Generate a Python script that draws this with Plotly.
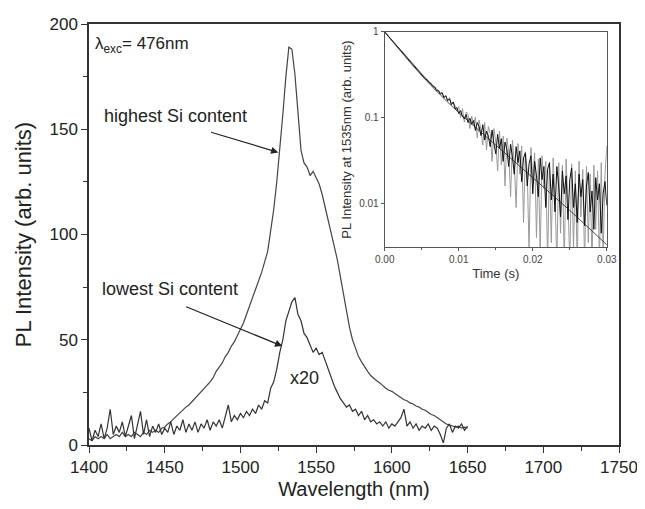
import numpy as np
import plotly.graph_objects as go

# PL spectra, 2 nm steps from 1400 to 1650 nm
wavelength = np.arange(1400, 1651, 2)
high_si = [3, 2, 4, 3, 4, 3, 5, 3, 4, 5, 4, 6, 4, 5, 4, 6, 5, 4, 6, 5,
           7, 6, 7, 6, 8, 8.5, 10, 11, 12.5, 14, 15, 16.5, 18, 19, 20.5, 22, 24, 25, 27, 28.5,
           30, 32, 35, 37, 39, 42, 44, 47, 49, 52, 55, 58, 62, 66, 69, 73, 78, 82, 87, 92,
           102, 112, 125, 140, 157, 175, 189, 188, 176, 158, 140, 134, 132, 128, 130, 127, 124, 119, 113, 107,
           101, 95, 88, 80, 72, 63, 56, 50, 46, 42, 39.5, 37, 35, 33, 31.5, 30.5, 29.5, 28, 27, 26,
           25.5, 24.5, 23.5, 22.5, 21.5, 21, 20, 19.5, 18.5, 18, 17, 16.5, 15.5, 14.5, 14, 13, 12, 11, 10, 9.5,
           9, 8.5, 9, 8, 8.5, 8]
low_si = [8, 2, 7, 4, 10, 3, 8, 17, 5, 9, 6, 11, 4, 9, 14, 3, 10, 16, 5, 12,
          4, 9, 6, 10, 5, 8, 6, 11, 5, 9, 7, 12, 6, 10, 7, 11, 6, 10, 8, 12,
          7, 11, 9, 12, 8, 13, 19, 11, 14, 12, 15, 13, 16, 14, 17, 15, 19, 17, 21, 20,
          27, 30, 36, 44, 50, 59, 63, 68, 70, 62, 59, 53, 51, 47, 44, 46, 43, 44, 40, 36,
          31, 28, 25, 22, 20, 18, 19, 16, 17, 14, 16, 12, 14, 11, 12, 10, 11, 9, 11, 8,
          10, 9, 11, 13, 17, 9, 11, 8, 10, 7, 9, 8, 10, 7, 9, 8, 5, 1, 8, 10,
          6, 9, 8, 10, 7, 9]

# decay at 1535 nm, 0.25 ms steps from 0 to 30 ms
decay_t = np.arange(121) * 0.00025
decay_black = [1.0, 0.945, 0.89, 0.845, 0.79, 0.752, 0.705, 0.672, 0.628, 0.6,
               0.558, 0.535, 0.497, 0.476, 0.443, 0.425, 0.395, 0.379, 0.352, 0.338,
               0.313, 0.304, 0.283, 0.276, 0.256, 0.251, 0.231, 0.228, 0.207, 0.207,
               0.188, 0.197, 0.171, 0.181, 0.158, 0.166, 0.142, 0.153, 0.127, 0.131,
               0.112, 0.121, 0.104, 0.097, 0.109, 0.088, 0.099, 0.084, 0.093, 0.071,
               0.088, 0.079, 0.062, 0.083, 0.055, 0.07, 0.061, 0.046, 0.072, 0.05,
               0.038, 0.064, 0.044, 0.057, 0.031, 0.052, 0.043, 0.027, 0.049, 0.035,
               0.022, 0.046, 0.03, 0.041, 0.018, 0.034, 0.039, 0.016, 0.029, 0.036,
               0.013, 0.031, 0.021, 0.012, 0.034, 0.019, 0.027, 0.009, 0.025, 0.03,
               0.011, 0.022, 0.008, 0.027, 0.016, 0.007, 0.024, 0.013, 0.021, 0.0065,
               0.019, 0.026, 0.009, 0.017, 0.006, 0.022, 0.012, 0.019, 0.0055, 0.016,
               0.023, 0.008, 0.014, 0.005, 0.02, 0.011, 0.017, 0.0045, 0.013, 0.018,
               0.0095]
decay_gray = [1.0, 0.95, 0.9, 0.85, 0.8, 0.755, 0.715, 0.675, 0.638, 0.602,
              0.568, 0.537, 0.507, 0.479, 0.452, 0.427, 0.403, 0.381, 0.36, 0.34,
              0.322, 0.307, 0.29, 0.279, 0.263, 0.253, 0.238, 0.232, 0.214, 0.21,
              0.196, 0.19, 0.176, 0.18, 0.158, 0.172, 0.147, 0.15, 0.138, 0.122,
              0.135, 0.1, 0.128, 0.089, 0.117, 0.11, 0.075, 0.105, 0.083, 0.102,
              0.058, 0.094, 0.072, 0.048, 0.088, 0.042, 0.079, 0.066, 0.031, 0.075,
              0.052, 0.024, 0.07, 0.028, 0.061, 0.016, 0.058, 0.04, 0.012, 0.055,
              0.03, 0.009, 0.05, 0.022, 0.047, 0.006, 0.04, 0.024, 0.0028, 0.045,
              0.018, 0.039, 0.004, 0.033, 0.0025, 0.036, 0.015, 0.031, 0.002, 0.029,
              0.0035, 0.034, 0.012, 0.002, 0.03, 0.0045, 0.028, 0.002, 0.033, 0.01,
              0.0022, 0.029, 0.003, 0.024, 0.002, 0.031, 0.007, 0.025, 0.002, 0.027,
              0.0035, 0.022, 0.002, 0.028, 0.005, 0.024, 0.002, 0.03, 0.0025, 0.021,
              0.047]
# fitted decay curve
fit_t = [0.0, 0.0025, 0.005, 0.0075, 0.01, 0.015, 0.02, 0.025, 0.03]
fit_i = [1.0, 0.55, 0.31, 0.185, 0.115, 0.048, 0.02, 0.0083, 0.0033]

FONT = "Arial, Liberation Sans, sans-serif"
AX = "#333333"

fig = go.Figure()

fig.add_trace(go.Scatter(x=wavelength, y=high_si, mode="lines",
                         line=dict(color="#444444", width=1.2), showlegend=False))
fig.add_trace(go.Scatter(x=wavelength, y=low_si, mode="lines",
                         line=dict(color="#333333", width=1.2), showlegend=False))

# inset
fig.add_trace(go.Scatter(x=decay_t, y=decay_gray, mode="lines", xaxis="x2", yaxis="y2",
                         line=dict(color="#9a9a9a", width=1), showlegend=False))
fig.add_trace(go.Scatter(x=decay_t, y=decay_black, mode="lines", xaxis="x2", yaxis="y2",
                         line=dict(color="#111111", width=1), showlegend=False))
fig.add_trace(go.Scatter(x=fit_t, y=fit_i, mode="lines", xaxis="x2", yaxis="y2",
                         line=dict(color="#222222", width=0.8, shape="spline"),
                         showlegend=False))

# page body adds an 8px margin, so the figure is 8px smaller than the window
fig.update_layout(
    width=637, height=501,
    margin=dict(l=81, r=24, t=7, b=64),
    paper_bgcolor="white", plot_bgcolor="white",
    font=dict(family=FONT, color="#222222"),
    xaxis=dict(
        range=[1400, 1750], tickvals=[1400, 1450, 1500, 1550, 1600, 1650, 1700, 1750],
        showline=True, linecolor=AX, linewidth=1.5, mirror=True,
        ticks="outside", ticklen=6, tickwidth=1.3, tickcolor=AX,
        minor=dict(dtick=25, ticks="outside", ticklen=4, tickcolor=AX, tickwidth=1.2),
        showgrid=False, zeroline=False, tickfont=dict(size=17),
        title=dict(text="Wavelength (nm)", font=dict(size=20), standoff=6),
    ),
    yaxis=dict(
        range=[0, 200], tickvals=[0, 50, 100, 150, 200],
        showline=True, linecolor=AX, linewidth=1.5, mirror=True,
        ticks="outside", ticklen=6, tickwidth=1.3, tickcolor=AX,
        minor=dict(dtick=25, ticks="outside", ticklen=4, tickcolor=AX, tickwidth=1.2),
        showgrid=False, zeroline=False, tickfont=dict(size=17),
        title=dict(text="PL Intensity (arb. units)", font=dict(size=22), standoff=12),
    ),
    xaxis2=dict(
        domain=[0.558, 0.977], anchor="y2", range=[0, 0.03],
        tickvals=[0, 0.01, 0.02, 0.03], tickformat=".2f",
        showline=True, linecolor="#555555", linewidth=1.2, mirror=True,
        ticks="outside", ticklen=3, tickcolor="#555555",
        minor=dict(dtick=0.005, ticks="outside", ticklen=2, tickcolor="#555555"),
        showgrid=False, zeroline=False, tickfont=dict(size=10, color="#444444"),
        title=dict(text="Time (s)", font=dict(size=13, color="#333333"), standoff=4),
    ),
    yaxis2=dict(
        domain=[0.47, 0.981], anchor="x2", type="log", range=[np.log10(0.0031), 0],
        tickvals=[0.01, 0.1, 1], ticktext=["0.01", "0.1", "1"],
        showline=True, linecolor="#555555", linewidth=1.2, mirror=True,
        ticks="outside", ticklen=3, tickcolor="#555555",
        showgrid=False, zeroline=False, tickfont=dict(size=10, color="#444444"),
        title=dict(text="PL Intensity at 1535nm (arb. units)",
                   font=dict(size=13, color="#333333"), standoff=4),
    ),
    annotations=[
        dict(x=1402.5, y=190, xref="x", yref="y", text="λ<sub>exc</sub>= 476nm",
             showarrow=False, xanchor="left", yanchor="middle", font=dict(size=17)),
        dict(x=1408.5, y=156.5, xref="x", yref="y", text="highest Si content",
             showarrow=False, xanchor="left", yanchor="middle", font=dict(size=18)),
        dict(x=1407, y=74, xref="x", yref="y", text="lowest Si content",
             showarrow=False, xanchor="left", yanchor="middle", font=dict(size=18)),
        dict(x=1542, y=31.6, xref="x", yref="y", text="x20",
             showarrow=False, xanchor="center", yanchor="middle", font=dict(size=18)),
        dict(x=1525, y=139, ax=1479.6, ay=148.8, xref="x", yref="y", axref="x", ayref="y",
             text="", showarrow=True, arrowhead=2, arrowsize=1.2, arrowwidth=1.2,
             arrowcolor="#222222"),
        dict(x=1527.6, y=47, ax=1463.2, ay=66, xref="x", yref="y", axref="x", ayref="y",
             text="", showarrow=True, arrowhead=2, arrowsize=1.2, arrowwidth=1.2,
             arrowcolor="#222222"),
    ],
)

fig.write_html("out.html")
